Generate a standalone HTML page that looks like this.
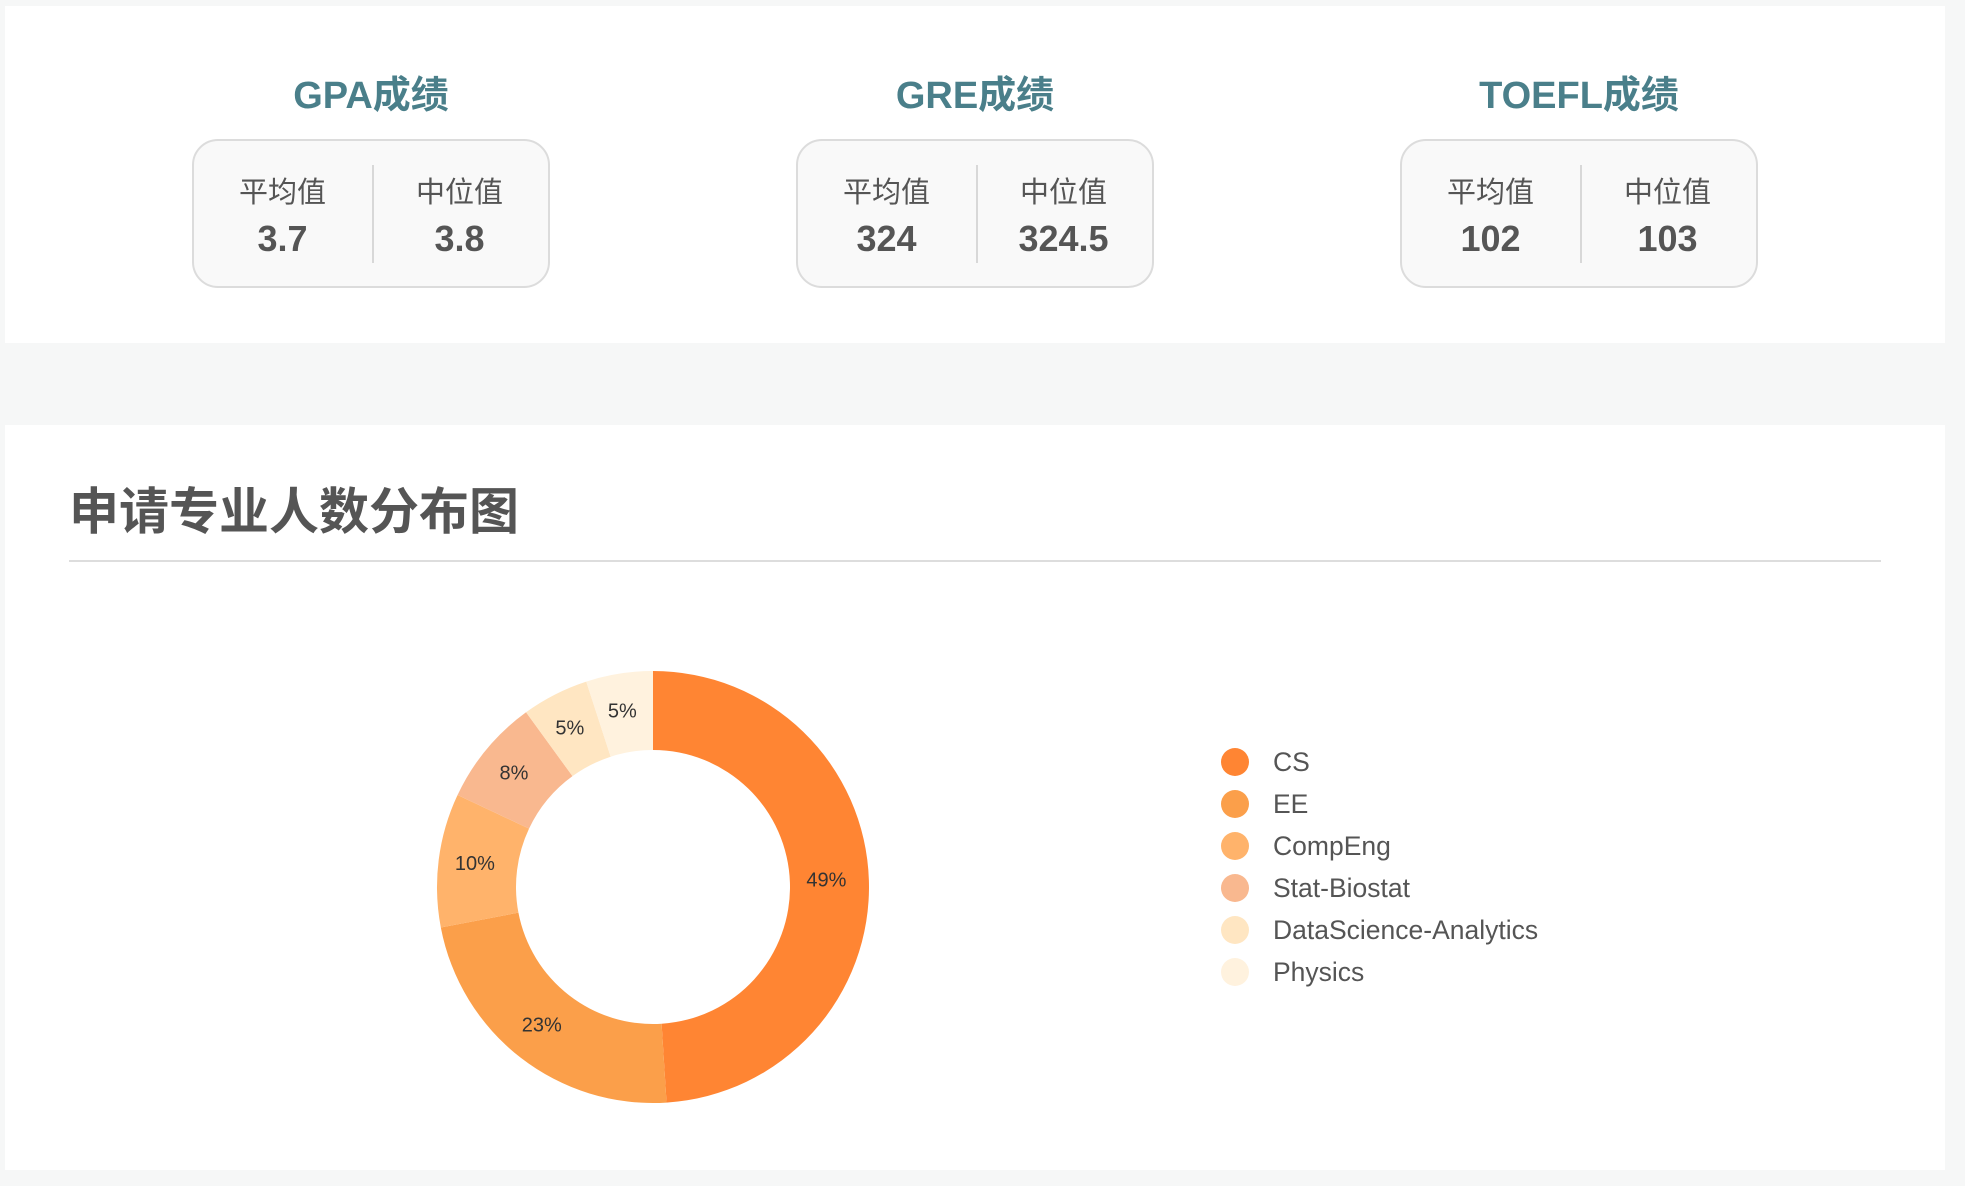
<!DOCTYPE html>
<html><head><meta charset="utf-8">
<style>
*{margin:0;padding:0;box-sizing:border-box}
body{width:1965px;height:1186px;background:#f6f7f7;font-family:"Liberation Sans","Noto Sans CJK SC",sans-serif;position:relative;overflow:hidden}
.card{position:absolute;left:5px;width:1940px;background:#fff}
.stat{position:absolute;width:358px;text-align:center}
.stat h2{font-size:38px;font-weight:bold;color:#4a7f8a;height:50px;line-height:50px}
.box{position:absolute;top:68px;left:0;width:358px;height:149px;border:2px solid #dcdcdc;border-radius:26px;background:#f9f9f9}
.half{position:absolute;top:0;width:50%;height:100%}
.half .lab{position:absolute;top:28px;width:100%;font-size:29px;color:#555}
.half .val{position:absolute;top:77px;width:100%;font-size:36px;font-weight:bold;color:#555}
.div{position:absolute;left:178px;top:24px;width:2px;height:98px;background:#d8d8d8}
</style></head><body>
<div class="card" style="top:6px;height:337px"></div>
<div class="card" style="top:425px;height:745px"></div>

<div class="stat" style="left:192px;top:71px">
<h2>GPA成绩</h2>
<div class="box">
<div class="half" style="left:0"><div class="lab">平均值</div><div class="val">3.7</div></div>
<div class="div"></div>
<div class="half" style="left:50%"><div class="lab">中位值</div><div class="val">3.8</div></div>
</div></div>

<div class="stat" style="left:796px;top:71px">
<h2>GRE成绩</h2>
<div class="box">
<div class="half" style="left:0"><div class="lab">平均值</div><div class="val">324</div></div>
<div class="div"></div>
<div class="half" style="left:50%"><div class="lab">中位值</div><div class="val">324.5</div></div>
</div></div>

<div class="stat" style="left:1400px;top:71px">
<h2>TOEFL成绩</h2>
<div class="box">
<div class="half" style="left:0"><div class="lab">平均值</div><div class="val">102</div></div>
<div class="div"></div>
<div class="half" style="left:50%"><div class="lab">中位值</div><div class="val">103</div></div>
</div></div>

<div style="position:absolute;left:69px;top:480px;font-size:50px;font-weight:bold;color:#555;line-height:64px">申请专业人数分布图</div>
<div style="position:absolute;left:69px;top:560px;width:1812px;height:2px;background:#ddd"></div>

<svg id="chart" width="1965" height="1186" style="position:absolute;left:0;top:0"></svg>
<script>
const categories=["CS","EE","CompEng","Stat-Biostat","DataScience-Analytics","Physics"];
const values=[49,23,10,8,5,5];
const colors=["#ff8533","#fb9f4a","#ffb36b","#f9b88f","#ffe6c2","#fff2de"];
const NS="http://www.w3.org/2000/svg";
const svg=document.getElementById("chart");
const cx=653,cy=887,R=216,r=137;
const total=values.reduce((a,b)=>a+b,0);
function pt(rad,a){return [cx+rad*Math.sin(a),cy-rad*Math.cos(a)];}
let acc=0;
values.forEach((v,i)=>{
  const a0=acc/total*2*Math.PI;acc+=v;const a1=acc/total*2*Math.PI;
  const big=(a1-a0)>Math.PI?1:0;
  const [x0,y0]=pt(R,a0),[x1,y1]=pt(R,a1),[x2,y2]=pt(r,a1),[x3,y3]=pt(r,a0);
  const p=document.createElementNS(NS,"path");
  p.setAttribute("d",`M${x0},${y0}A${R},${R} 0 ${big} 1 ${x1},${y1}L${x2},${y2}A${r},${r} 0 ${big} 0 ${x3},${y3}Z`);
  p.setAttribute("fill",colors[i]);
  
  
  svg.appendChild(p);
  const [lx,ly]=pt((R+r)/2,(a0+a1)/2);
  const t=document.createElementNS(NS,"text");
  t.setAttribute("x",lx-3);t.setAttribute("y",ly+5);
  t.setAttribute("text-anchor","middle");
  t.setAttribute("font-size","20");t.setAttribute("fill","#333");
  t.setAttribute("font-family","Liberation Sans, sans-serif");
  t.textContent=Math.round(v/total*100)+"%";
  
  
  svg.appendChild(t);
  const c=document.createElementNS(NS,"circle");
  c.setAttribute("cx",1235);c.setAttribute("cy",762+i*42);c.setAttribute("r",14);
  c.setAttribute("fill",colors[i]);
  
  
  svg.appendChild(c);
  const lt=document.createElementNS(NS,"text");
  lt.setAttribute("x",1273);lt.setAttribute("y",771+i*42);
  lt.setAttribute("font-size","26.5");lt.setAttribute("fill","#555");
  lt.setAttribute("font-family","Liberation Sans, sans-serif");
  lt.textContent=categories[i];
  
  
  svg.appendChild(lt);
});
</script>
</body></html>
